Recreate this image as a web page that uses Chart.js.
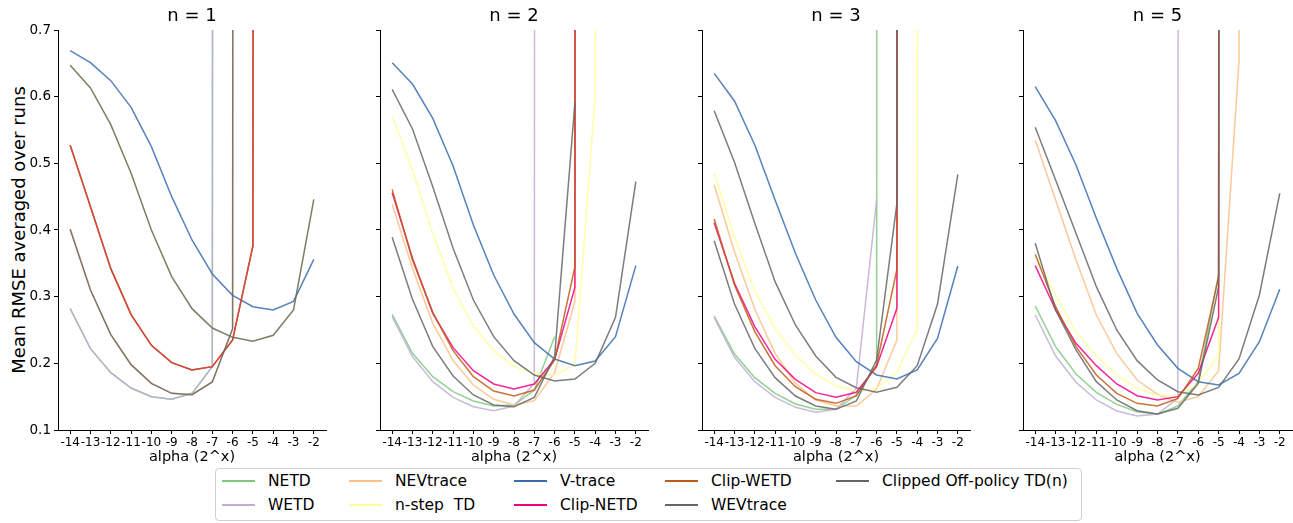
<!DOCTYPE html>
<html>
<head>
<meta charset="utf-8">
<script src="https://cdn.jsdelivr.net/npm/chart.js@4/dist/chart.umd.min.js"></script>
<style>
  body { margin: 0; background: #fff; font-family: "DejaVu Sans", sans-serif; }
  #wrap { position: relative; width: 1293px; height: 523px; overflow: hidden; }
  canvas { position: absolute; top: 0; }
  .title { position: absolute; top: 4px; font-size: 18px; transform: translateX(-50%); white-space: nowrap; }
  .xlab { position: absolute; top: 448px; font-size: 14.5px; transform: translateX(-50%); white-space: nowrap; }
  #ylab { position: absolute; left: 18px; top: 230px; font-size: 18px; white-space: nowrap;
          transform: translate(-50%, -50%) rotate(-90deg); }
  #legend { position: absolute; left: 215px; top: 468px; width: 867px; height: 53px;
            border: 1px solid #d0d0d0; border-radius: 4px; box-sizing: border-box; }
  .item { position: absolute; font-size: 15.5px; white-space: pre; line-height: 18px; }
  .item span.ln { position: absolute; top: 8px; height: 1.6px; width: 33px; }
</style>
</head>
<body>
<div id="wrap">
  <div id="ylab">Mean RMSE averaged over runs</div>
  <div id="legend"></div>
</div>
<script>
// alpha exponents on the x axis
const alphaExp = [-14, -13, -12, -11, -10, -9, -8, -7, -6, -5, -4, -3, -2];
const nValues = [1, 2, 3, 5];
const seriesNames = ['NETD', 'WETD', 'NEVtrace', 'n-step  TD', 'V-trace', 'Clip-NETD', 'Clip-WETD', 'WEVtrace', 'Clipped Off-policy TD(n)'];
const seriesColors = ['#7fc97f', '#beaed4', '#fdc086', '#ffff99', '#386cb0', '#f0027f', '#bf5b17', '#666666', '#666666'];

// 100 = value far above the plot (diverged), null = not plotted
// each array: [n=1, n=2, n=3, n=5]
const netd = [
  [0.282, 0.222, 0.186, 0.163, 0.150, 0.146, 0.155, 0.195, 100, null, null, null, null],
  [0.2735, 0.215, 0.180, 0.1575, 0.1435, 0.136, 0.1375, 0.160, 0.240, null, null, null, null],
  [0.271, 0.214, 0.1785, 0.155, 0.139, 0.131, 0.131, 0.1525, 0.1975, 100, null, null, null],
  [0.286, 0.225, 0.184, 0.1565, 0.1385, 0.1275, 0.1235, 0.136, 0.1725, 0.334, null, null, null]
];
const wetd = [
  [0.282, 0.222, 0.186, 0.163, 0.150, 0.146, 0.155, 0.195, 100, null, null, null, null],
  [0.270, 0.210, 0.1725, 0.149, 0.135, 0.129, 0.136, 0.170, 100, null, null, null, null],
  [0.2685, 0.209, 0.1725, 0.149, 0.134, 0.1265, 0.131, 0.1625, 0.445, null, null, null, null],
  [0.2725, 0.211, 0.1715, 0.145, 0.1285, 0.121, 0.124, 0.1475, 100, null, null, null, null]
];
const nevtrace = [
  [0.401, 0.310, 0.243, 0.198, 0.170, 0.155, 0.153, 0.172, 0.252, 100, null, null, null],
  [0.4385, 0.3425, 0.260, 0.204, 0.1675, 0.146, 0.1375, 0.144, 0.186, 0.2925, 100, null, null],
  [0.4675, 0.3675, 0.281, 0.215, 0.170, 0.145, 0.136, 0.136, 0.161, 0.235, 100, null, null],
  [0.535, 0.445, 0.355, 0.2725, 0.215, 0.175, 0.1535, 0.1415, 0.150, 0.189, 0.655, 100, null]
];
const nstepTd = [
  [0.647, 0.613, 0.558, 0.485, 0.400, 0.330, 0.282, 0.253, 0.239, 0.233, 0.242, 0.280, 0.446],
  [0.5715, 0.490, 0.395, 0.3125, 0.256, 0.219, 0.195, 0.185, 0.1825, 0.1975, 0.6025, 100, null],
  [0.486, 0.389, 0.3085, 0.2525, 0.2125, 0.1835, 0.166, 0.159, 0.1625, 0.1865, 0.251, 100, null],
  [0.362, 0.3025, 0.2475, 0.211, 0.1825, 0.1625, 0.1525, 0.150, 0.170, 0.2125, 100, null, null]
];
const vtrace = [
  [0.669, 0.651, 0.624, 0.584, 0.525, 0.450, 0.385, 0.334, 0.302, 0.285, 0.280, 0.293, 0.356],
  [0.651, 0.619, 0.5675, 0.496, 0.4075, 0.3325, 0.274, 0.231, 0.2065, 0.1965, 0.2035, 0.240, 0.3465],
  [0.635, 0.5935, 0.5275, 0.445, 0.365, 0.295, 0.239, 0.2025, 0.1825, 0.1765, 0.190, 0.2375, 0.346],
  [0.615, 0.564, 0.4975, 0.4175, 0.3425, 0.275, 0.2275, 0.1925, 0.1725, 0.1675, 0.185, 0.2325, 0.311]
];
const clipNetd = [
  [0.527, 0.435, 0.342, 0.273, 0.227, 0.201, 0.190, 0.195, 0.235, 0.376, 100, null, null],
  [0.456, 0.3575, 0.275, 0.2235, 0.189, 0.169, 0.1615, 0.169, 0.206, 0.314, 100, null, null],
  [0.411, 0.320, 0.255, 0.206, 0.176, 0.156, 0.149, 0.1565, 0.195, 0.2825, 100, null, null],
  [0.3465, 0.280, 0.230, 0.1965, 0.169, 0.1515, 0.145, 0.150, 0.185, 0.269, 100, null, null]
];
const clipWetd = [
  [0.527, 0.435, 0.342, 0.273, 0.227, 0.201, 0.190, 0.195, 0.235, 0.376, 100, null, null],
  [0.461, 0.355, 0.2765, 0.219, 0.180, 0.1585, 0.151, 0.160, 0.205, 0.345, 100, null, null],
  [0.4165, 0.3175, 0.2475, 0.1965, 0.165, 0.146, 0.140, 0.151, 0.1975, 0.341, 100, null, null],
  [0.3635, 0.285, 0.225, 0.1825, 0.155, 0.140, 0.136, 0.1475, 0.1925, 0.330, 100, null, null]
];
const wevtrace = [
  [0.401, 0.310, 0.243, 0.198, 0.170, 0.155, 0.153, 0.172, 0.252, 100, null, null, null],
  [0.389, 0.296, 0.225, 0.181, 0.1525, 0.1375, 0.135, 0.149, 0.210, 0.591, null, null, null],
  [0.384, 0.289, 0.2225, 0.1785, 0.151, 0.136, 0.131, 0.1435, 0.205, 0.440, 100, null, null],
  [0.380, 0.280, 0.220, 0.1725, 0.145, 0.129, 0.124, 0.1325, 0.170, 0.315, 100, null, null]
];
const clippedTdn = [
  [0.647, 0.613, 0.558, 0.485, 0.400, 0.330, 0.282, 0.253, 0.239, 0.233, 0.242, 0.280, 0.446],
  [0.611, 0.5515, 0.465, 0.3725, 0.295, 0.240, 0.204, 0.1825, 0.1735, 0.1765, 0.200, 0.269, 0.4725],
  [0.579, 0.5015, 0.410, 0.3225, 0.2575, 0.211, 0.179, 0.1635, 0.1565, 0.164, 0.1965, 0.289, 0.4835],
  [0.554, 0.475, 0.395, 0.315, 0.250, 0.204, 0.175, 0.1575, 0.1525, 0.164, 0.2065, 0.3025, 0.455]
];
const allSeries = [netd, wetd, nevtrace, nstepTd, vtrace, clipNetd, clipWetd, wevtrace, clippedTdn];

// panel placement: canvas left, y-axis width inside canvas, canvas width
const panels = [
  { left: 0, axisW: 58, width: 330 },
  { left: 360, axisW: 20, width: 292 },
  { left: 682, axisW: 20, width: 292 },
  { left: 1003, axisW: 20, width: 293 }
];

function hexA(hex, a) {
  const r = parseInt(hex.slice(1, 3), 16), g = parseInt(hex.slice(3, 5), 16), b = parseInt(hex.slice(5, 7), 16);
  return `rgba(${r},${g},${b},${a})`;
}

const wrap = document.getElementById('wrap');

panels.forEach((p, k) => {
  const canvas = document.createElement('canvas');
  canvas.width = p.width;
  canvas.height = 470;
  canvas.style.left = p.left + 'px';
  wrap.appendChild(canvas);

  const center = p.left + p.axisW + (p.width - p.axisW - 4) / 2;
  const t = document.createElement('div');
  t.className = 'title';
  t.style.left = center + 'px';
  t.textContent = 'n = ' + nValues[k];
  wrap.appendChild(t);
  const xl = document.createElement('div');
  xl.className = 'xlab';
  xl.style.left = center + 'px';
  xl.textContent = 'alpha (2^x)';
  wrap.appendChild(xl);

  const datasets = allSeries.map((s, i) => ({
    label: seriesNames[i],
    data: s[k].map((v, j) => ({ x: alphaExp[j], y: v })),
    borderColor: hexA(seriesColors[i], 0.85),
    borderWidth: 1.5,
    pointRadius: 0,
    tension: 0,
    spanGaps: false,
    order: 8 - i
  }));

  new Chart(canvas.getContext('2d'), {
    type: 'line',
    data: { datasets },
    options: {
      responsive: false,
      animation: false,
      devicePixelRatio: 1,
      layout: { padding: { top: 30, right: 4, left: 0, bottom: 0 } },
      plugins: { legend: { display: false }, tooltip: { enabled: false } },
      scales: {
        x: {
          type: 'linear',
          min: -14.6,
          max: -1.4,
          afterFit: (s) => { s.height = 40; },
          border: { display: true, color: '#000', width: 1 },
          grid: { drawOnChartArea: false, drawTicks: true, tickLength: 4, color: '#000' },
          ticks: {
            stepSize: 1, includeBounds: false, autoSkip: false, maxRotation: 0, padding: 2,
            color: '#000', font: { family: 'DejaVu Sans', size: 12 }
          }
        },
        y: {
          min: 0.1,
          max: 0.7,
          afterFit: (s) => { s.width = p.axisW; },
          border: { display: true, color: '#000', width: 1 },
          grid: { drawOnChartArea: false, drawTicks: true, tickLength: 4, color: '#000' },
          ticks: {
            stepSize: 0.1, display: k === 0, padding: 3,
            color: '#000', font: { family: 'DejaVu Sans', size: 13.5 },
            callback: (v) => v.toFixed(1)
          }
        }
      }
    }
  });
});

// legend, matplotlib style: 5 columns filled column by column
const legend = document.getElementById('legend');
const colX = [222, 349, 514, 665, 836];
const rowY = [472, 496];
seriesNames.forEach((name, i) => {
  const col = Math.floor(i / 2), row = i % 2;
  const it = document.createElement('div');
  it.className = 'item';
  it.style.left = (colX[col] - 216) + 'px';
  it.style.top = (rowY[row] - 469) + 'px';
  it.innerHTML = `<span class="ln" style="background:${seriesColors[i]}"></span><span style="margin-left:46px">${name}</span>`;
  legend.appendChild(it);
});
</script>
</body>
</html>
